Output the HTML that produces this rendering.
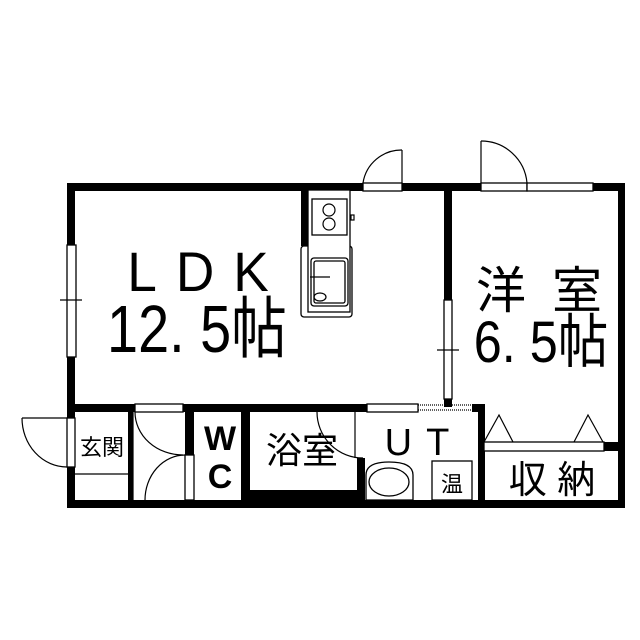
<!DOCTYPE html>
<html><head><meta charset="utf-8"><style>
html,body{margin:0;padding:0;background:#fff;}
svg{display:block;}
text{font-family:"Liberation Sans","Noto Sans CJK JP",sans-serif;fill:#000;}
</style></head><body>
<svg width="640" height="640" viewBox="0 0 640 640" xmlns="http://www.w3.org/2000/svg">
<rect width="640" height="640" fill="#fff"/>
<g fill="#000">
<rect x="67" y="183" width="296" height="8"/>
<rect x="402" y="183" width="79" height="8"/>
<rect x="593" y="183" width="32" height="8"/>
<rect x="67" y="183" width="8" height="62"/>
<rect x="67" y="357" width="8" height="61"/>
<rect x="67" y="467" width="8" height="41"/>
<rect x="618" y="183" width="7" height="325"/>
<rect x="67" y="500" width="558" height="8"/>
<rect x="67" y="404" width="68" height="8"/>
<rect x="183" y="404" width="184" height="8"/>
<rect x="472" y="404" width="13" height="8"/>
<rect x="301" y="190" width="7" height="56"/>
<rect x="444" y="190" width="8" height="110"/>
<rect x="444" y="399" width="8" height="8"/>
<rect x="128" y="412" width="5" height="90"/>
<rect x="185" y="412" width="9" height="43"/>
<rect x="241" y="412" width="9" height="90"/>
<rect x="250" y="490" width="108" height="12"/>
<rect x="357" y="404" width="8" height="8"/>
<rect x="357" y="458" width="8" height="44"/>
<rect x="478" y="404" width="7" height="104"/>
<rect x="604" y="442" width="15" height="9"/>
</g>
<g fill="#fff" stroke="#000" stroke-width="1.3">
<rect x="363" y="183" width="39" height="8"/>
<rect x="481" y="183" width="46" height="8"/>
<rect x="527" y="183" width="66" height="8"/>
<rect x="67" y="245" width="9" height="112"/>
<rect x="444" y="300" width="8" height="99"/>
<rect x="67" y="418" width="8" height="49"/>
<rect x="135" y="404" width="48" height="8"/>
<rect x="185" y="455" width="9" height="45"/>
<rect x="367" y="404" width="51" height="8"/>
<rect x="301" y="246" width="51" height="71" rx="3"/>
<rect x="308" y="190" width="42" height="122"/>
<rect x="312" y="199" width="35" height="36"/>
<rect x="311" y="258" width="37" height="48" rx="3"/>
<rect x="314" y="261" width="31" height="42" rx="2"/>
<rect x="484" y="442" width="120" height="9"/>
<path d="M366 500 V475 Q366 462 389 462 Q413 462 413 475 V500 Z"/>
<ellipse cx="389" cy="482" rx="20" ry="14"/>
<rect x="432" y="461" width="40" height="39"/>
</g>
<g fill="none" stroke="#000" stroke-width="1.2">
<circle cx="329" cy="210" r="6"/>
<circle cx="329" cy="224" r="6"/>
<rect x="351" y="215" width="3" height="5"/>
<line x1="310" y1="277" x2="330" y2="277"/>
<ellipse cx="320" cy="297" rx="6" ry="4"/>
<line x1="418" y1="405" x2="472" y2="405" stroke-dasharray="1,1"/>
<line x1="418" y1="410" x2="472" y2="410" stroke-dasharray="1,1"/>
<line x1="402" y1="150" x2="402" y2="183"/>
<path d="M363 183 A39 39 0 0 1 402 150"/>
<line x1="481" y1="141" x2="481" y2="183"/>
<path d="M481 141 A46 46 0 0 1 527 183"/>
<line x1="22" y1="418" x2="67" y2="418"/>
<path d="M22 418 A45 49 0 0 0 67 467"/>
<path d="M135 412 A48 43 0 0 0 183 455"/>
<path d="M145 500 A40 45 0 0 1 185 455"/>
<path d="M317 412 A46 46 0 0 0 363 458"/>
<line x1="355" y1="412" x2="355" y2="458"/>
<line x1="74" y1="474" x2="128" y2="474"/>
<line x1="133" y1="412" x2="133" y2="500"/>
<path d="M484 442 L499 415 L513 442 M574 442 L588 415 L603 442"/>
<line x1="60" y1="300" x2="82" y2="300"/>
<line x1="437" y1="350" x2="459" y2="350"/>
</g>
<text x="208" y="291" font-size="56" text-anchor="middle" letter-spacing="20" transform="translate(198 0) scale(0.95 1) translate(-198 0)">LDK</text>
<text x="197" y="352" font-size="62" text-anchor="middle" transform="translate(197 352) scale(0.9 1.08) translate(-197 -352)">12. 5帖</text>
<text x="542" y="308" font-size="50" text-anchor="middle" letter-spacing="6">洋 室</text>
<text x="541" y="362" font-size="56" text-anchor="middle" transform="translate(541 362) scale(0.9 1.05) translate(-541 -362)">6. 5帖</text>
<text x="102" y="455" font-size="22" text-anchor="middle">玄関</text>
<text x="220" y="450" font-size="34" font-weight="bold" text-anchor="middle">W</text>
<text x="220" y="488" font-size="34" font-weight="bold" text-anchor="middle">C</text>
<text x="302" y="463" font-size="36" text-anchor="middle">浴室</text>
<text x="424" y="455" font-size="38" text-anchor="middle" letter-spacing="14">UT</text>
<text x="452" y="492" font-size="22" text-anchor="middle">温</text>
<text x="552" y="493" font-size="38" text-anchor="middle">収 納</text>
</svg>
</body></html>
